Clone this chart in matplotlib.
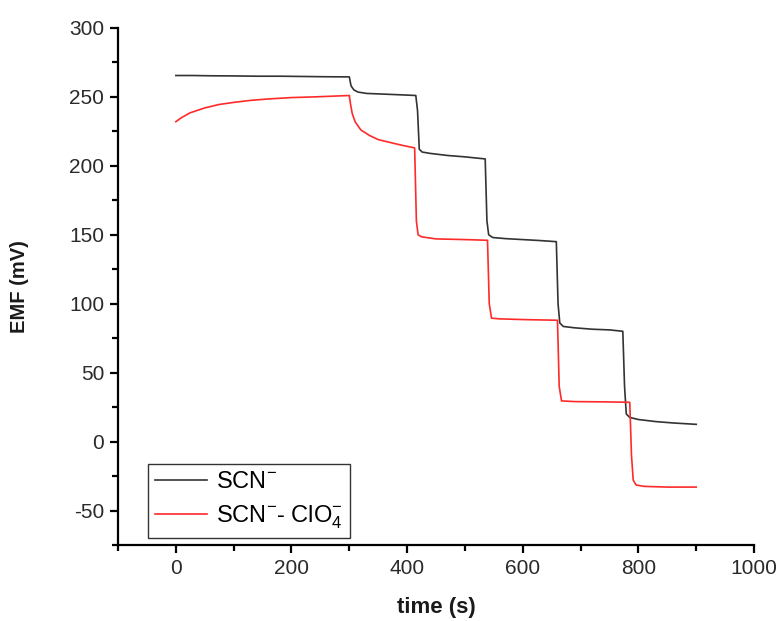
import matplotlib
matplotlib.use('Agg')
import matplotlib.pyplot as plt
from matplotlib.ticker import MultipleLocator

plt.rcParams['font.family'] = ['Liberation Sans', 'DejaVu Sans']
plt.rcParams['mathtext.fontset'] = 'custom'
plt.rcParams['mathtext.rm'] = 'Liberation Sans'
plt.rcParams['mathtext.default'] = 'regular'
plt.rcParams['axes.unicode_minus'] = False

# SCN- electrode response (time in s, EMF in mV)
scn_t = [0, 30, 60, 100, 140, 180, 220, 260, 300, 303, 308, 315, 330, 360, 400, 415,
         418, 421, 426, 440, 470, 500, 535, 538, 541, 548, 570, 600, 630, 658,
         661, 664, 670, 690, 720, 750, 773, 776, 779, 785, 800, 830, 860, 900]
scn_v = [265.5, 265.5, 265.3, 265.2, 265.0, 265.0, 264.8, 264.6, 264.5, 258, 255, 253.5, 252.5, 252, 251.3, 251,
         240, 212, 210, 209, 207.5, 206.5, 205, 160, 150, 148, 147.2, 146.5, 145.8, 145,
         100, 86, 83.5, 82.5, 81.5, 81, 80, 40, 20, 17.5, 16, 14.5, 13.5, 12.5]

# SCN- / ClO4- electrode response
mix_t = [0, 10, 25, 50, 75, 100, 130, 160, 200, 240, 270, 300, 302, 305, 310, 320, 335,
         350, 370, 390, 413, 416, 419, 425, 450, 500, 539, 542, 546, 560, 600, 660,
         663, 667, 690, 740, 785, 788, 791, 796, 810, 850, 900]
mix_v = [232, 235, 238.5, 242, 244.5, 246, 247.5, 248.5, 249.5, 250, 250.5, 251, 245, 238, 232, 226, 222,
         219, 217, 215, 213, 160, 150, 148.5, 147, 146.5, 146, 100, 89.5, 89, 88.5, 88,
         40, 29.5, 29, 28.8, 28.5, -10, -28, -31.5, -32.5, -33, -33]

fig = plt.figure(figsize=(7.79, 6.21), dpi=100)
ax = fig.add_axes([0.1515, 0.1224, 0.8165, 0.8326])

ax.plot(scn_t, scn_v, color='#333333', lw=1.2, label='SCN$^{-}$')
ax.plot(mix_t, mix_v, color='#ff2a2a', lw=1.2, label='SCN$^{-}$- ClO$_{4}^{-}$')

ax.set_xlim(-100, 1000)
ax.set_ylim(-75, 300)
ax.xaxis.set_major_locator(MultipleLocator(200))
ax.xaxis.set_minor_locator(MultipleLocator(100))
ax.yaxis.set_major_locator(MultipleLocator(50))
ax.yaxis.set_minor_locator(MultipleLocator(25))

for side in ['top', 'right']:
    ax.spines[side].set_visible(False)
for side in ['left', 'bottom']:
    ax.spines[side].set_linewidth(1.6)

ax.tick_params(which='major', direction='out', length=6, width=1.6, labelsize=15,
               labelcolor='#2a2a2a', pad=4)
ax.tick_params(which='minor', direction='out', length=4, width=1.6)

ax.set_xlabel('time (s)', fontsize=16, fontweight='bold', color='#1a1a1a')
ax.set_ylabel('EMF (mV)', fontsize=14.5, fontweight='bold', color='#1a1a1a')
ax.xaxis.set_label_coords(0.5, -0.1)
ax.yaxis.set_label_coords(-0.14, 0.5)

leg = ax.legend(loc='lower left', bbox_to_anchor=(0.047, 0.0135, 0.318, 0.147),
                mode='expand', borderaxespad=0, fontsize=17, fancybox=False,
                edgecolor='#333333', framealpha=1, handlelength=2.2,
                handletextpad=0.4, labelspacing=0.45, borderpad=0.3)
leg.get_frame().set_linewidth(1.0)

fig.savefig('out.png', dpi=100)
